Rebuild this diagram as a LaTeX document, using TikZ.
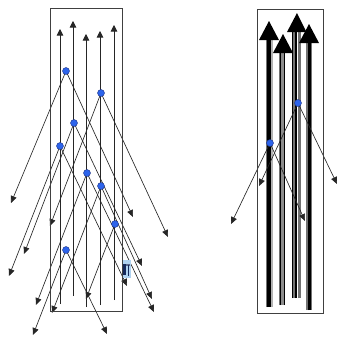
\documentclass[tikz,border=0pt]{standalone}
\usetikzlibrary{arrows.meta}
\pgfdeclarelayer{bg}
\pgfdeclarelayer{mid}
\pgfsetlayers{bg,mid,main}
\definecolor{dotblue}{RGB}{45,100,235}
\definecolor{dotedge}{RGB}{30,50,130}
\definecolor{iconblue}{RGB}{175,210,240}
\definecolor{iconnavy}{RGB}{20,40,90}
\tikzset{
  frame/.style={draw=black!75, line width=0.6pt},
  ray/.style={draw=black!85, line width=0.65pt, -{Triangle[length=7pt,width=6pt]}},
  upray/.style={draw=black!85, line width=0.65pt, -{Triangle[length=6.5pt,width=6.5pt]}},
  bluedot/.style={circle, inner sep=0pt, minimum size=7pt, fill=dotblue, draw=dotedge, line width=0.4pt},
  bighead/.style={fill=black},
}
\begin{document}
\begin{tikzpicture}[x=1pt,y=-1pt]
\useasboundingbox (0,0) rectangle (338,338);
% ---------------- left picture ----------------
\node[frame, minimum width=72pt, minimum height=303pt, inner sep=0pt, anchor=north west] (boxL) at (50,8) {};
% vertical arrows
\coordinate (v1b) at (60,304); \coordinate (v1t) at (60,29);
\coordinate (v2b) at (73,296); \coordinate (v2t) at (73,21);
\coordinate (v3b) at (86,307); \coordinate (v3t) at (86,34);
\coordinate (v4b) at (100,305); \coordinate (v4t) at (100,31);
\coordinate (v5b) at (114,300); \coordinate (v5t) at (114,25);
\foreach \i in {1,...,5} \draw[upray] (v\i b) -- (v\i t);
% dots
\node[bluedot] (A) at (66,71) {};
\node[bluedot] (B) at (101,93) {};
\node[bluedot] (C) at (74,123) {};
\node[bluedot] (D) at (60,146) {};
\node[bluedot] (E) at (87,173) {};
\node[bluedot] (F) at (101,186) {};
\node[bluedot] (G) at (115,224) {};
\node[bluedot] (H) at (66,250) {};
% tips
\coordinate (t1) at (11,203);
\coordinate (t2) at (50,226);
\coordinate (t3) at (24,254);
\coordinate (t4) at (9,276);
\coordinate (t5) at (36,305);
\coordinate (t6) at (52,313);
\coordinate (t7) at (33,335);
\coordinate (t8) at (86,299);
\coordinate (t9) at (107,334);
\coordinate (t10) at (127,286);
\coordinate (t11) at (133,217);
\coordinate (t12) at (168,237);
\coordinate (t13) at (142,266);
\coordinate (t14) at (152,299);
\coordinate (t15) at (154,312);
\begin{pgfonlayer}{bg}
\draw[ray] (A.center) -- (t1);  \draw[ray] (A.center) -- (t11);
\draw[ray] (B.center) -- (t2);  \draw[ray] (B.center) -- (t12);
\draw[ray] (C.center) -- (t3);  \draw[ray] (C.center) -- (t13);
\draw[ray] (D.center) -- (t4);  \draw[ray] (D.center) -- (t10);
\draw[ray] (E.center) -- (t5);  \draw[ray] (E.center) -- (t15);
\draw[ray] (F.center) -- (t6);  \draw[ray] (F.center) -- (t14);
\draw[ray] (G.center) -- (t8);
\draw[ray] (H.center) -- (t7);  \draw[ray] (H.center) -- (t9);
\end{pgfonlayer}
% small icon
\node[fill=iconblue, minimum width=8.5pt, minimum height=18pt, inner sep=0pt, anchor=north west] (icon) at (122.3,260) {};
\fill[iconnavy] (123,264) rectangle (126,275);
\fill[iconnavy!70] (126,264) rectangle (130,265.5);
\draw[iconnavy, line width=0.8pt] (128,265) -- (128,276);
% ---------------- right picture ----------------
\node[frame, minimum width=66pt, minimum height=304pt, inner sep=0pt, anchor=north west] (boxR) at (257,9) {};
\begin{pgfonlayer}{bg}
% shaft 1 (x=269)
\draw[black!55, line width=1pt] (266.8,307) -- (266.8,39);
\draw[black, line width=3.2pt] (269,307) -- (269,39);
\draw[black!30, line width=2.2pt] (271.8,307) -- (271.8,39);
\fill[bighead] (269,21) -- (279,40) -- (259,40) -- cycle;
% shaft 2 (x=283)
\draw[black!55, line width=1pt] (279.2,305) -- (279.2,52);
\draw[black, line width=1.3pt] (280.6,305) -- (280.6,52);
\draw[black!45, line width=2.3pt] (282.5,305) -- (282.5,52);
\draw[black, line width=1pt] (284.3,305) -- (284.3,52);
\fill[bighead] (283,34) -- (293,53) -- (273,53) -- cycle;
% shaft 3 (x=297)
\draw[black, line width=1.3pt] (292.7,298) -- (292.7,31);
\draw[black!55, line width=2pt] (294.4,298) -- (294.4,31);
\draw[black, line width=2pt] (296.4,298) -- (296.4,31);
\draw[black!55, line width=3pt] (299,298) -- (299,31);
\fill[bighead] (297,13) -- (306.5,32) -- (287,32) -- cycle;
% shaft 4 (x=309)
\draw[black!55, line width=1.7pt] (307,310) -- (307,42);
\draw[black, line width=3.3pt] (309.6,310) -- (309.6,42);
\draw[black!55, line width=0.7pt] (311.7,310) -- (311.7,42);
\fill[bighead] (309,24) -- (319,43) -- (299,43) -- cycle;
\end{pgfonlayer}
% dots and rays
\node[bluedot] (R1) at (298,103) {};
\node[bluedot] (R2) at (270,143) {};
\coordinate (r1a) at (259,186);
\coordinate (r1b) at (337,184);
\coordinate (r2a) at (231,224);
\coordinate (r2b) at (305,221);
\begin{pgfonlayer}{mid}
\draw[ray] (R1.center) -- (r1a); \draw[ray] (R1.center) -- (r1b);
\draw[ray] (R2.center) -- (r2a); \draw[ray] (R2.center) -- (r2b);
\end{pgfonlayer}
\end{tikzpicture}
\end{document}
